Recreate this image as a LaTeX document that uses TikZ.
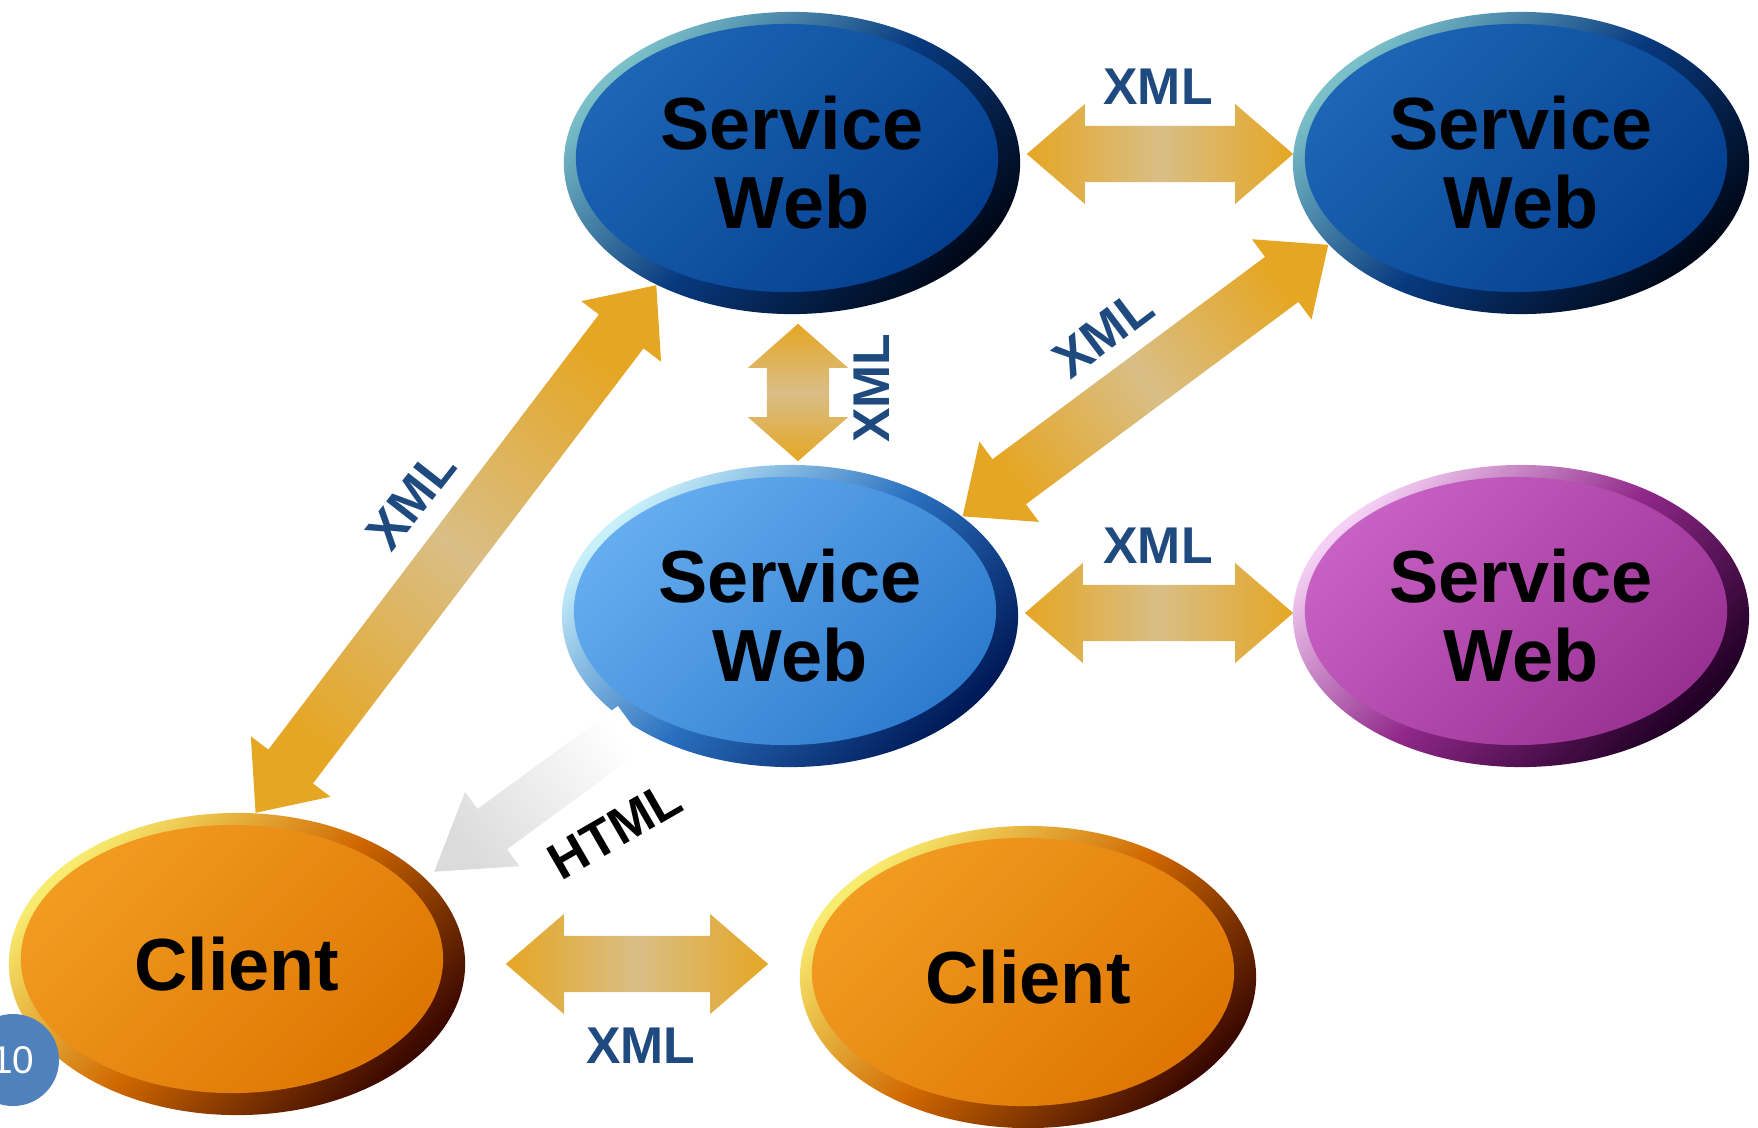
\documentclass[tikz,border=0pt]{standalone}
\usepackage{fontspec}
\setmainfont{Liberation Sans}
\usetikzlibrary{calc,shapes.geometric}

\definecolor{arrgold}{HTML}{E5A624}
\definecolor{arrpale}{HTML}{D9BE86}
\definecolor{xmlblue}{HTML}{1F4A80}
\definecolor{pageblue}{HTML}{4F81BD}
% dark blue service
\definecolor{dbrimhi}{HTML}{7BC0C8}
\definecolor{dbrimmid}{HTML}{083A80}
\definecolor{dbrimlo}{HTML}{000818}
\definecolor{dbfacehi}{HTML}{1E66B6}
\definecolor{dbfacelo}{HTML}{023C8C}
% light blue service
\definecolor{lbrimhi}{HTML}{C8F0FA}
\definecolor{lbrimmid}{HTML}{2A70C0}
\definecolor{lbrimlo}{HTML}{001A58}
\definecolor{lbfacehi}{HTML}{66AEF0}
\definecolor{lbfacelo}{HTML}{2A78CC}
% purple service
\definecolor{purimhi}{HTML}{F4D0F4}
\definecolor{purimmid}{HTML}{90288A}
\definecolor{purimlo}{HTML}{200024}
\definecolor{pufacehi}{HTML}{C862C4}
\definecolor{pufacelo}{HTML}{962E90}
% client
\definecolor{orrimhi}{HTML}{F8EC70}
\definecolor{orrimmid}{HTML}{D06800}
\definecolor{orrimlo}{HTML}{3A0800}
\definecolor{orfacehi}{HTML}{F29C22}
\definecolor{orfacelo}{HTML}{DC7400}

\def\headlen{0.58cm}
\def\headw{0.50cm}
\def\shaftw{0.28cm}
\newcommand\dblarrow[3][]{%
	\coordinate (aA) at #2;
	\coordinate (aB) at #3;
	\coordinate (hA) at ($(aA)!\headlen!(aB)$);
	\coordinate (hB) at ($(aB)!\headlen!(aA)$);
	\shade[#1] (aA) -- ($(hA)!\headw!90:(aA)$) -- ($(hA)!\shaftw!90:(aA)$) -- ($(hB)!\shaftw!-90:(aB)$) -- ($(hB)!\headw!-90:(aB)$) -- (aB) -- ($(hB)!\headw!90:(aB)$) -- ($(hB)!\shaftw!90:(aB)$) -- ($(hA)!\shaftw!-90:(aA)$) -- ($(hA)!\headw!-90:(aA)$) -- cycle;}
\newcommand\sglarrow[3][]{%
	\coordinate (aA) at #2;
	\coordinate (aB) at #3;
	\coordinate (hB) at ($(aB)!\headlen!(aA)$);
	\shade[#1] ($(aA)!\shaftw!90:(aB)$) -- ($(hB)!\shaftw!90:(aB)$) -- ($(hB)!\headw!90:(aB)$) -- (aB) -- ($(hB)!\headw!-90:(aB)$) -- ($(hB)!\shaftw!-90:(aB)$) -- ($(aA)!\shaftw!-90:(aB)$) -- cycle;}

\tikzset{
	bubble/.style n args={5}{ellipse, minimum width=4.56cm, minimum height=3.02cm, inner sep=0pt,
		top color=#1, bottom color=#3, middle color=#2, shading angle=45,
		path picture={\shade[top color=#4, bottom color=#5, shading angle=45]
			([xshift=-0.05cm, yshift=0.05cm]path picture bounding box.center) ellipse [x radius=2.11cm, y radius=1.34cm];},
		font=\bfseries\fontsize{21}{22.5}\selectfont, align=center},
	darkws/.style={bubble={dbrimhi}{dbrimmid}{dbrimlo}{dbfacehi}{dbfacelo}},
	lightws/.style={bubble={lbrimhi}{lbrimmid}{lbrimlo}{lbfacehi}{lbfacelo}},
	purplews/.style={bubble={purimhi}{purimmid}{purimlo}{pufacehi}{pufacelo}},
	client/.style={bubble={orrimhi}{orrimmid}{orrimlo}{orfacehi}{orfacelo}},
	goldarr/.style={left color=arrgold, right color=arrgold, middle color=arrpale, shading angle=#1},
	xmllab/.style={text=xmlblue, font=\bfseries\fontsize{14.7}{15}\selectfont, inner sep=0pt}
}

\begin{document}
\begin{tikzpicture}[x=0.01cm, y=-0.01cm]
	%%%%% START %%%%%
	\useasboundingbox (0,0) rectangle (1758,1127);
	
	\node[darkws] (ws1) at (792,163) {Service\\Web};
	\node[darkws] (ws2) at (1521,163) {Service\\Web};
	\node[lightws] (ws3) at (790,616) {Service\\Web};
	\node[purplews] (ws4) at (1521,616) {Service\\Web};
	\node[client] (cl1) at (237,964) {Client};
	\node[client] (cl2) at (1028,977) {Client};
	
	\node[circle, fill=pageblue, minimum size=0.92cm, inner sep=0pt, text=white, font=\fontsize{11}{11}\selectfont] (pg) at (13,1060) {10};
	
	\dblarrow[goldarr=90]{($(ws1.east)+(6,-9)$)}{($(ws2.west)+(1,-9)$)}
	{\def\headlen{0.44cm}\def\shaftw{0.31cm}
	\dblarrow[goldarr=0]{($(ws1.south)+(6,9)$)}{($(ws3.north)+(8,-3)$)}}
	\dblarrow[goldarr=-53]{(ws3.30)}{(ws2.203)}
	\dblarrow[goldarr=90]{($(ws3.east)+(6,-3)$)}{($(ws4.west)+(1,-3)$)}
	\dblarrow[goldarr=-38]{(cl1.83)}{(ws1.222)}
	\dblarrow[goldarr=90]{($(cl1.east)+(40,0)$)}{($(cl2.west)+(-31,-13)$)}
	{\def\headlen{0.72cm}\def\headw{0.46cm}\def\shaftw{0.25cm}
	\sglarrow[left color=white, right color=black!14, shading angle=-52]{(ws3.215)}{($(cl1.25)+(10,-5)$)}}
	
	\node[xmllab] (x12) at (1158,87) {XML};
	\node[xmllab, rotate=90] (x13) at (872,388) {XML};
	\node[xmllab, rotate=37] (x23) at (1103,333) {XML};
	\node[xmllab] (x34) at (1158,546) {XML};
	\node[xmllab, rotate=52] (x1c) at (411,500) {XML};
	\node[xmllab] (xcc) at (641,1046) {XML};
	\node[xmllab, text=black, rotate=30] (htm) at (615,830) {HTML};
	
	%%%%% END %%%%%
\end{tikzpicture}
\end{document}
